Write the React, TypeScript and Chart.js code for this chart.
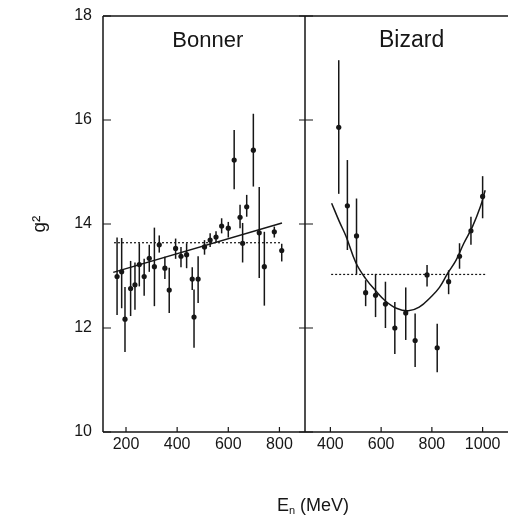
import { useEffect, useRef } from "react";
import { Chart, registerables } from "chart.js";

Chart.register(...registerables);

// Axis ticks
const gTicks = [10, 12, 14, 16, 18];
const bonnerTicks = [200, 400, 600, 800];
const bizardTicks = [400, 600, 800, 1000];

// Bonner: neutron energy (MeV), g², error-bar ends
const bonnerE = [165, 183, 196, 218, 235, 252, 271, 291, 311, 330, 352, 369, 394, 415, 437, 459, 466, 482, 507, 529, 552, 574, 600, 623, 646, 656, 672, 698, 721, 741, 780, 809];
const bonnerG = [12.99, 13.08, 12.17, 12.76, 12.83, 13.22, 12.99, 13.34, 13.18, 13.6, 13.15, 12.73, 13.53, 13.38, 13.41, 12.94, 12.21, 12.94, 13.56, 13.69, 13.75, 13.96, 13.92, 15.23, 14.13, 13.63, 14.33, 15.42, 13.83, 13.18, 13.85, 13.49];
const bonnerLow = [12.25, 12.38, 11.54, 12.23, 12.35, 12.8, 12.62, 13.08, 12.42, 13.45, 12.94, 12.29, 13.33, 13.17, 13.15, 12.73, 11.62, 12.48, 13.41, 13.56, 13.64, 13.82, 13.74, 14.67, 13.92, 13.26, 14.14, 14.72, 12.96, 12.43, 13.74, 13.28];
const bonnerHigh = [13.74, 13.73, 12.79, 13.29, 13.26, 13.63, 13.33, 13.6, 13.93, 13.78, 13.37, 13.16, 13.72, 13.56, 13.63, 13.17, 12.74, 13.38, 13.69, 13.82, 13.86, 14.11, 14.04, 15.81, 14.37, 14.02, 14.56, 16.12, 14.71, 13.85, 13.95, 13.62];
const bonnerFitE = [150, 810];
const bonnerFitG = [13.07, 14.02];
const bonnerMeanE = [153, 808];
const bonnerMeanG = [13.64, 13.64];

// Bizard
const bizardE = [433, 467, 503, 539, 578, 617, 654, 697, 734, 781, 821, 866, 909, 954, 1000];
const bizardG = [15.86, 14.35, 13.77, 12.68, 12.63, 12.46, 12.0, 12.29, 11.76, 13.02, 11.62, 12.89, 13.38, 13.87, 14.53];
const bizardLow = [14.58, 13.5, 13.04, 12.42, 12.21, 12.0, 11.5, 11.77, 11.25, 12.8, 11.15, 12.65, 13.14, 13.6, 14.11];
const bizardHigh = [17.15, 15.23, 14.49, 12.92, 13.04, 12.89, 12.5, 12.78, 12.28, 13.21, 12.08, 13.11, 13.63, 14.14, 14.92];
const bizardCurveE = [405, 435, 462, 500, 539, 578, 617, 660, 707, 750, 797, 830, 862, 895, 926, 960, 991, 1010];
const bizardCurveG = [14.4, 14.05, 13.76, 13.26, 12.95, 12.72, 12.52, 12.38, 12.33, 12.4, 12.6, 12.78, 13.05, 13.3, 13.63, 13.95, 14.33, 14.65];
const bizardMeanE = [403, 1010];
const bizardMeanG = [13.03, 13.03];

const INK = "#161616";
const FONT = '"Liberation Sans", Arial, Helvetica, sans-serif';

const pairs = (xs: number[], ys: number[]) => xs.map((x, i) => ({ x, y: ys[i] }));
const withErrors = (xs: number[], ys: number[], lo: number[], hi: number[]) =>
  xs.map((x, i) => ({ x, y: ys[i], lo: lo[i], hi: hi[i] }));

// Vertical error bars for datasets flagged with errorBars
const errorBarPlugin = {
  id: "errorBars",
  beforeDatasetsDraw(chart: any) {
    const { ctx } = chart;
    const yScale = chart.scales.y;
    ctx.save();
    ctx.strokeStyle = INK;
    ctx.lineWidth = 1.5;
    chart.data.datasets.forEach((ds: any, di: number) => {
      if (!ds.errorBars) return;
      const meta = chart.getDatasetMeta(di);
      meta.data.forEach((el: any, i: number) => {
        const raw = ds.data[i];
        ctx.beginPath();
        ctx.moveTo(el.x, yScale.getPixelForValue(raw.lo));
        ctx.lineTo(el.x, yScale.getPixelForValue(raw.hi));
        ctx.stroke();
      });
    });
    ctx.restore();
  },
};

// Panel frame, inward tick marks, panel name and optional shared axis caption
const framePlugin = {
  id: "panelFrame",
  afterDraw(chart: any, _args: any, opts: any) {
    const { ctx, chartArea: a } = chart;
    const xs = chart.scales.x;
    const ys = chart.scales.y;
    ctx.save();
    ctx.strokeStyle = INK;
    ctx.lineWidth = 1.5;
    ctx.beginPath();
    ctx.moveTo(a.left, a.top);
    ctx.lineTo(a.right, a.top);
    ctx.moveTo(a.left, a.bottom);
    ctx.lineTo(a.right, a.bottom);
    if (opts.leftEdge) {
      ctx.moveTo(a.left, a.top);
      ctx.lineTo(a.left, a.bottom);
    }
    if (opts.rightEdge) {
      ctx.moveTo(a.right, a.top);
      ctx.lineTo(a.right, a.bottom);
    }
    ctx.stroke();

    ctx.lineWidth = 1.2;
    ctx.beginPath();
    for (const v of gTicks) {
      const py = ys.getPixelForValue(v);
      ctx.moveTo(a.left, py);
      ctx.lineTo(a.left + 8, py);
      if (opts.rightEdge) {
        ctx.moveTo(a.right, py);
        ctx.lineTo(a.right - 6, py);
      }
    }
    for (const v of opts.xTicks) {
      const px = xs.getPixelForValue(v);
      ctx.moveTo(px, a.bottom);
      ctx.lineTo(px, a.bottom - 5);
    }
    ctx.stroke();

    ctx.fillStyle = INK;
    ctx.font = `${opts.nameSize}px ${FONT}`;
    ctx.textAlign = "center";
    ctx.textBaseline = "alphabetic";
    ctx.fillText(opts.name, xs.getPixelForValue(opts.nameAt[0]), ys.getPixelForValue(opts.nameAt[1]));

    if (opts.caption) {
      const big = `18px ${FONT}`;
      const small = `11px ${FONT}`;
      ctx.font = big;
      const wE = ctx.measureText("E").width;
      const wRest = ctx.measureText(" (MeV)").width;
      ctx.font = small;
      const wN = ctx.measureText("n").width;
      const total = wE + wN + wRest;
      let x0 = opts.caption.cx - total / 2;
      const base = opts.caption.baseline;
      ctx.textAlign = "left";
      ctx.font = big;
      ctx.fillText("E", x0, base);
      x0 += wE;
      ctx.font = small;
      ctx.fillText("n", x0, base + 3);
      x0 += wN;
      ctx.font = big;
      ctx.fillText(" (MeV)", x0, base);
    }
    ctx.restore();
  },
};

function panelDatasets(
  pts: any[],
  curve: { x: number; y: number }[],
  mean: { x: number; y: number }[],
  tension: number
) {
  return [
    {
      data: pts,
      errorBars: true,
      showLine: false,
      pointRadius: 2.6,
      pointBackgroundColor: INK,
      pointBorderWidth: 0,
    },
    {
      data: curve,
      showLine: true,
      borderColor: INK,
      borderWidth: 1.5,
      pointRadius: 0,
      tension,
    },
    {
      data: mean,
      showLine: true,
      borderColor: INK,
      borderWidth: 1.2,
      borderDash: [2, 2],
      pointRadius: 0,
    },
  ];
}

const axisFont = (size: number) => ({ family: FONT, size });
const plainLabel = (v: any) => String(v);

// x axis with a fixed height so both panels share the same bottom edge
function energyAxis(min: number, max: number, ticks: number[]) {
  return {
    type: "linear",
    min,
    max,
    afterFit: (s: any) => {
      s.height = 86;
      s.paddingLeft = 0;
      s.paddingRight = 0;
    },
    afterBuildTicks: (s: any) => {
      s.ticks = ticks.map((value) => ({ value }));
    },
    grid: { display: false, drawTicks: false },
    border: { display: false },
    ticks: {
      color: INK,
      font: axisFont(16),
      padding: 3,
      autoSkip: false,
      maxRotation: 0,
      callback: plainLabel,
    },
  };
}

export default function App() {
  const leftRef = useRef<HTMLCanvasElement | null>(null);
  const rightRef = useRef<HTMLCanvasElement | null>(null);

  useEffect(() => {
    if (!leftRef.current || !rightRef.current) return;

    const left = new Chart(leftRef.current, {
      type: "scatter",
      data: {
        datasets: panelDatasets(
          withErrors(bonnerE, bonnerG, bonnerLow, bonnerHigh),
          pairs(bonnerFitE, bonnerFitG),
          pairs(bonnerMeanE, bonnerMeanG),
          0
        ) as any,
      },
      options: {
        animation: false,
        responsive: false,
        events: [],
        layout: { padding: { top: 16, right: 205, left: 0, bottom: 0 } },
        plugins: {
          legend: { display: false },
          tooltip: { enabled: false },
          panelFrame: {
            leftEdge: true,
            rightEdge: true,
            xTicks: bonnerTicks,
            name: "Bonner",
            nameSize: 22,
            nameAt: [520, 17.4],
            caption: { cx: 313, baseline: 511 },
          },
        } as any,
        scales: {
          x: energyAxis(110, 900, bonnerTicks) as any,
          y: {
            min: 10,
            max: 18,
            afterFit: (s: any) => {
              s.width = 103;
              s.paddingTop = 0;
              s.paddingBottom = 0;
            },
            afterBuildTicks: (s: any) => {
              s.ticks = gTicks.map((value) => ({ value }));
            },
            grid: { display: false, drawTicks: false },
            border: { display: false },
            ticks: { color: INK, font: axisFont(16), padding: 11, callback: plainLabel },
            title: {
              display: true,
              text: "g²",
              color: INK,
              font: axisFont(19),
              padding: { top: 28, bottom: 0 },
            },
          },
        },
      },
      plugins: [errorBarPlugin, framePlugin],
    });

    const right = new Chart(rightRef.current, {
      type: "scatter",
      data: {
        datasets: panelDatasets(
          withErrors(bizardE, bizardG, bizardLow, bizardHigh),
          pairs(bizardCurveE, bizardCurveG),
          pairs(bizardMeanE, bizardMeanG),
          0.4
        ) as any,
      },
      options: {
        animation: false,
        responsive: false,
        events: [],
        layout: { padding: { top: 16, right: 0, left: 305, bottom: 0 } },
        plugins: {
          legend: { display: false },
          tooltip: { enabled: false },
          panelFrame: {
            leftEdge: false,
            rightEdge: false,
            xTicks: bizardTicks,
            name: "Bizard",
            nameSize: 23,
            nameAt: [720, 17.4],
          },
        } as any,
        scales: {
          x: energyAxis(300, 1100, bizardTicks) as any,
          y: {
            display: false,
            min: 10,
            max: 18,
          },
        },
      },
      plugins: [errorBarPlugin, framePlugin],
    });

    return () => {
      left.destroy();
      right.destroy();
    };
  }, []);

  return (
    <div
      style={{
        position: "absolute",
        left: 0,
        top: 0,
        width: 510,
        height: 518,
        overflow: "hidden",
        background: "#fff",
      }}
    >
      <canvas ref={leftRef} width={510} height={518} style={{ position: "absolute", left: 0, top: 0 }} />
      <canvas ref={rightRef} width={512} height={518} style={{ position: "absolute", left: 0, top: 0 }} />
    </div>
  );
}
